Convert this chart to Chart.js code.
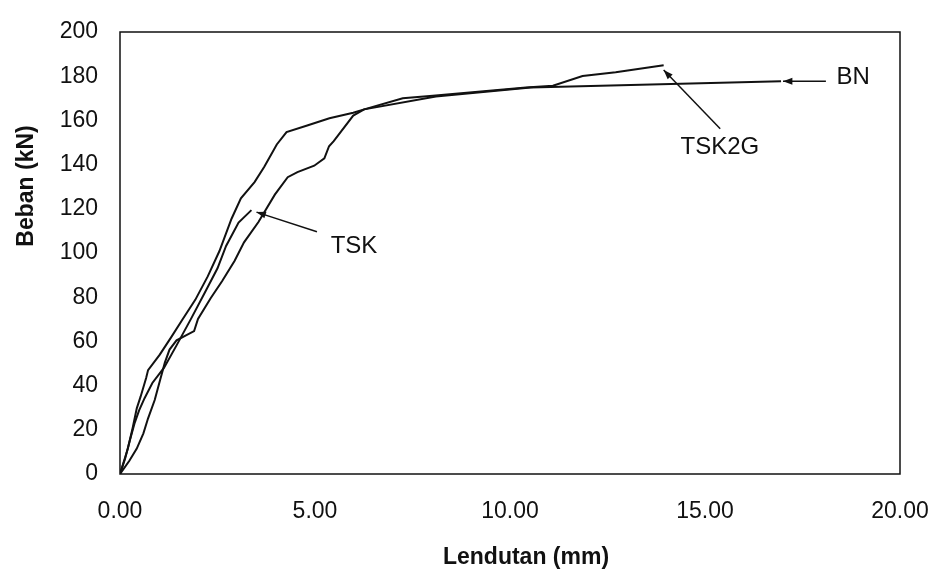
<!DOCTYPE html>
<html>
<head>
<meta charset="utf-8">
<script src="https://cdn.jsdelivr.net/npm/chart.js@4.4.0/dist/chart.umd.min.js"></script>
<style>
  html, body { margin: 0; padding: 0; background: #fff; }
  #wrap { width: 931px; height: 576px; }
</style>
</head>
<body>
<div id="wrap"><canvas id="grafik-beban"></canvas></div>
<script>
// lendutan (mm) vs beban (kN)
const tsk2gX = [0, 0.20, 0.32, 0.43, 0.53, 0.67, 0.72, 1.02, 1.31, 1.61, 1.93, 2.25, 2.55, 2.86, 3.10, 3.45, 3.70, 4.02, 4.27, 4.78, 5.37, 5.98, 6.26, 7.25, 8.02, 10.41, 11.10, 11.86, 12.71, 13.94];
const tsk2gY = [0, 11.4, 20.5, 29.7, 35.1, 43.4, 47.0, 54.0, 61.8, 70.1, 78.8, 89.4, 100.9, 115.5, 124.7, 132.1, 139.0, 149.1, 154.7, 157.6, 161.0, 163.5, 165.0, 170.0, 171.2, 174.9, 175.7, 180.1, 181.8, 185.0];

const tskX = [0, 0.13, 0.25, 0.37, 0.49, 0.63, 0.83, 1.13, 1.45, 1.82, 2.19, 2.50, 2.72, 3.04, 3.37];
const tskY = [0, 6.9, 15.1, 22.8, 28.8, 34.3, 41.2, 48.1, 58.2, 70.2, 82.6, 93.1, 103.2, 113.8, 119.4];

const bnX = [0, 0.24, 0.43, 0.60, 0.72, 0.89, 1.03, 1.15, 1.27, 1.45, 1.90, 2.00, 2.32, 2.62, 2.94, 3.18, 3.55, 3.97, 4.30, 4.55, 4.98, 5.24, 5.36, 5.48, 5.98, 6.26, 8.10, 10.53, 16.95];
const bnY = [0, 6.0, 11.5, 18.4, 25.2, 33.5, 42.6, 50.4, 56.3, 60.5, 64.7, 70.2, 79.4, 87.3, 96.5, 104.8, 114.0, 126.4, 134.3, 136.6, 139.5, 142.8, 148.3, 150.6, 162.2, 165.0, 170.8, 174.9, 177.7];

const xTicks = [0, 5, 10, 15, 20];
const yTicks = [0, 20, 40, 60, 80, 100, 120, 140, 160, 180, 200];

// label + panah (dalam satuan data)
const labelNama = ['TSK', 'TSK2G', 'BN'];
const labelPos = [[6.0, 103], [15.38, 148], [18.8, 179.5]];
const panahDari = [[5.05, 109.6], [15.39, 156.2], [18.1, 177.7]];
const panahKe = [[3.5, 118.5], [13.94, 182.8], [17.0, 177.7]];

const FONT = "'Liberation Sans', Arial, sans-serif";
const HITAM = '#111';

function titik(xs, ys) {
    return xs.map((x, i) => ({ x: x, y: ys[i] }));
}

function garis(label, xs, ys) {
    return {
        label: label,
        data: titik(xs, ys),
        borderColor: HITAM,
        borderWidth: 2,
        pointRadius: 0,
        tension: 0,
        fill: false
    };
}

const hiasan = {
    id: 'hiasan',
    afterDatasetsDraw(chart) {
        const ctx = chart.ctx;
        const a = chart.chartArea;
        const sx = chart.scales.x, sy = chart.scales.y;
        ctx.save();

        // bingkai
        ctx.strokeStyle = HITAM;
        ctx.lineWidth = 1.5;
        ctx.strokeRect(a.left, a.top, a.right - a.left, a.bottom - a.top);

        // panah
        ctx.fillStyle = HITAM;
        ctx.lineWidth = 1.5;
        for (let i = 0; i < labelNama.length; i++) {
            const x1 = sx.getPixelForValue(panahDari[i][0]), y1 = sy.getPixelForValue(panahDari[i][1]);
            const x2 = sx.getPixelForValue(panahKe[i][0]), y2 = sy.getPixelForValue(panahKe[i][1]);
            const ang = Math.atan2(y2 - y1, x2 - x1);
            ctx.beginPath();
            ctx.moveTo(x1, y1);
            ctx.lineTo(x2, y2);
            ctx.stroke();
            ctx.beginPath();
            ctx.moveTo(x2, y2);
            ctx.lineTo(x2 - 10 * Math.cos(ang - 0.35), y2 - 10 * Math.sin(ang - 0.35));
            ctx.lineTo(x2 - 10 * Math.cos(ang + 0.35), y2 - 10 * Math.sin(ang + 0.35));
            ctx.closePath();
            ctx.fill();

            ctx.font = '24px ' + FONT;
            ctx.textAlign = 'center';
            ctx.textBaseline = 'middle';
            ctx.fillText(labelNama[i], sx.getPixelForValue(labelPos[i][0]), sy.getPixelForValue(labelPos[i][1]));
        }

        // judul sumbu
        ctx.font = 'bold 23px ' + FONT;
        ctx.textAlign = 'center';
        ctx.textBaseline = 'middle';
        ctx.fillText('Lendutan (mm)', 526, 558);
        ctx.translate(27, 186);
        ctx.rotate(-Math.PI / 2);
        ctx.fillText('Beban (kN)', 0, 0);
        ctx.restore();
    }
};

const ctx = document.getElementById('grafik-beban').getContext('2d');
new Chart(ctx, {
    type: 'line',
    data: {
        datasets: [
            garis('TSK2G', tsk2gX, tsk2gY),
            garis('TSK', tskX, tskY),
            garis('BN', bnX, bnY)
        ]
    },
    options: {
        responsive: true,
        maintainAspectRatio: false,
        animation: false,
        layout: { padding: { top: 32, right: 0, left: 0, bottom: 0 } },
        plugins: {
            legend: { display: false },
            tooltip: { enabled: false }
        },
        scales: {
            x: {
                type: 'linear',
                min: 0,
                max: 20,
                afterBuildTicks: s => { s.ticks = xTicks.map(v => ({ value: v })); },
                afterFit: s => {
                    s.height = 102;
                    s.paddingLeft = 0;
                    s.paddingRight = 31;
                },
                grid: { display: false, drawTicks: false },
                border: { display: false },
                ticks: {
                    color: HITAM,
                    font: { family: FONT, size: 23 },
                    padding: 24,
                    maxRotation: 0,
                    callback: v => Number(v).toFixed(2)
                }
            },
            y: {
                type: 'linear',
                min: 0,
                max: 200,
                afterBuildTicks: s => { s.ticks = yTicks.map(v => ({ value: v })); },
                afterFit: s => {
                    s.width = 120;
                    s.paddingTop = 0;
                    s.paddingBottom = 0;
                },
                grid: { display: false, drawTicks: false },
                border: { display: false },
                ticks: {
                    color: HITAM,
                    font: { family: FONT, size: 23 },
                    padding: 22
                }
            }
        }
    },
    plugins: [hiasan]
});
</script>
</body>
</html>
